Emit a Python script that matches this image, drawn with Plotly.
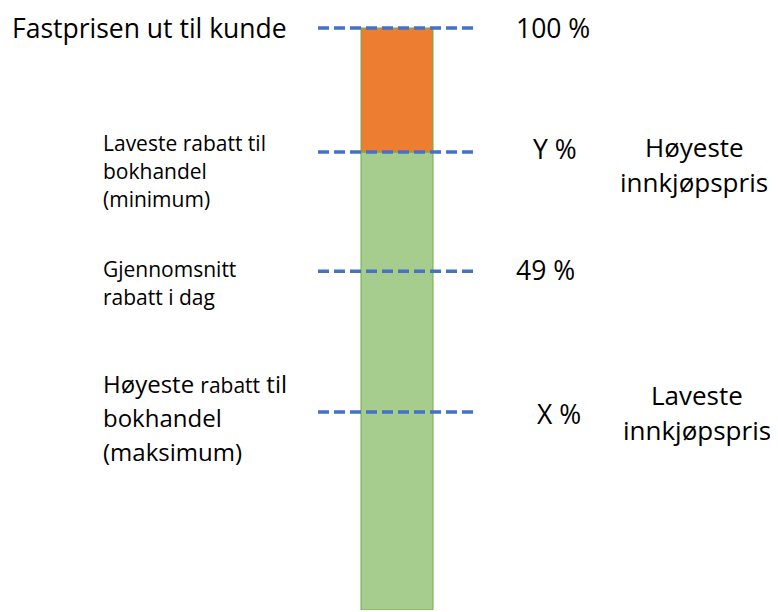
import plotly.graph_objects as go

# ---- data ----
segment_names = ["Innkjøpspris", "Rabatt"]
segment_values = [78.7, 21.3]          # green (bottom) and orange (top), diagram units
segment_colors = ["#A6CD8D", "#ED7D31"]
level_values = [100, 78.7, 58.2, 34.0]  # dashed reference levels
level_labels = ["100 %", "Y %", "49 %", "X %"]

FONT = "Open Sans"
W, H = 778, 612
OFF = 8                      # page body margin
TOP, BOTPIX = 28, 610        # page pixels of level 100 / level 0
PAD = 10                     # extra room above level 100
scale = (BOTPIX - TOP) / 100.0


def py(pix):
    return (BOTPIX - pix) / scale


fig = go.Figure()
base = 0
for name, val, col in zip(segment_names, segment_values, segment_colors):
    fig.add_trace(go.Bar(x=[397], y=[val], base=[base], width=[72], name=name,
                         marker=dict(color=col, line=dict(color="#70AD47", width=1)),
                         hoverinfo="skip", cliponaxis=False))
    base += val

for lv in level_values:
    fig.add_trace(go.Scatter(x=[318, 478], y=[lv, lv], mode="lines", cliponaxis=False,
                             line=dict(color="#4472C4", width=3.5, dash="11px,5px"),
                             hoverinfo="skip", showlegend=False))

ann = []


def txt(x, ypix, s, size, anchor="left"):
    ann.append(dict(x=x, y=py(ypix), xref="x", yref="y", text=s, showarrow=False,
                    xanchor=anchor, yanchor="middle",
                    font=dict(family=FONT, size=size, color="#000000")))


TITLE = 26.5
BIG = 24
SMALL = 21
RIGHT = 26
txt(10, 28, "Fastprisen ut til kunde", TITLE)

# left block 2
for i, s in enumerate(["Laveste rabatt til", "bokhandel", "(minimum)"]):
    txt(101, 143 + i * 28, s, SMALL)
# left block 3
for i, s in enumerate(["Gjennomsnitt", "rabatt i dag"]):
    txt(101, 268.5 + i * 28, s, SMALL)
# left block 4
for i, s in enumerate(["Høyeste <span style='font-size:21px'>rabatt</span> til", "bokhandel", "(maksimum)"]):
    txt(101, 383 + i * 34, s, BIG)

# level labels on the right of the dashes
label_x = [552.5, 555, 545, 558.5]
label_ypix = [28, 149, 270, 414]
for lx, lyp, lab in zip(label_x, label_ypix, level_labels):
    txt(lx, lyp, lab, TITLE, anchor="center")

for i, s in enumerate(["Høyeste", "innkjøpspris"]):
    txt(694, 147 + i * 35, s, RIGHT, anchor="center")
for i, s in enumerate(["Laveste", "innkjøpspris"]):
    txt(697, 395 + i * 35, s, RIGHT, anchor="center")

fig.update_layout(
    width=W, height=H,
    margin=dict(l=0, r=0, t=TOP - OFF - PAD, b=H - (BOTPIX - OFF)),
    paper_bgcolor="white", plot_bgcolor="white",
    barmode="overlay", showlegend=False,
    xaxis=dict(range=[OFF, W + OFF], visible=False, fixedrange=True),
    yaxis=dict(range=[0, 100 + PAD / scale], visible=False, fixedrange=True),
    annotations=ann,
)
fig.write_html("out.html")
